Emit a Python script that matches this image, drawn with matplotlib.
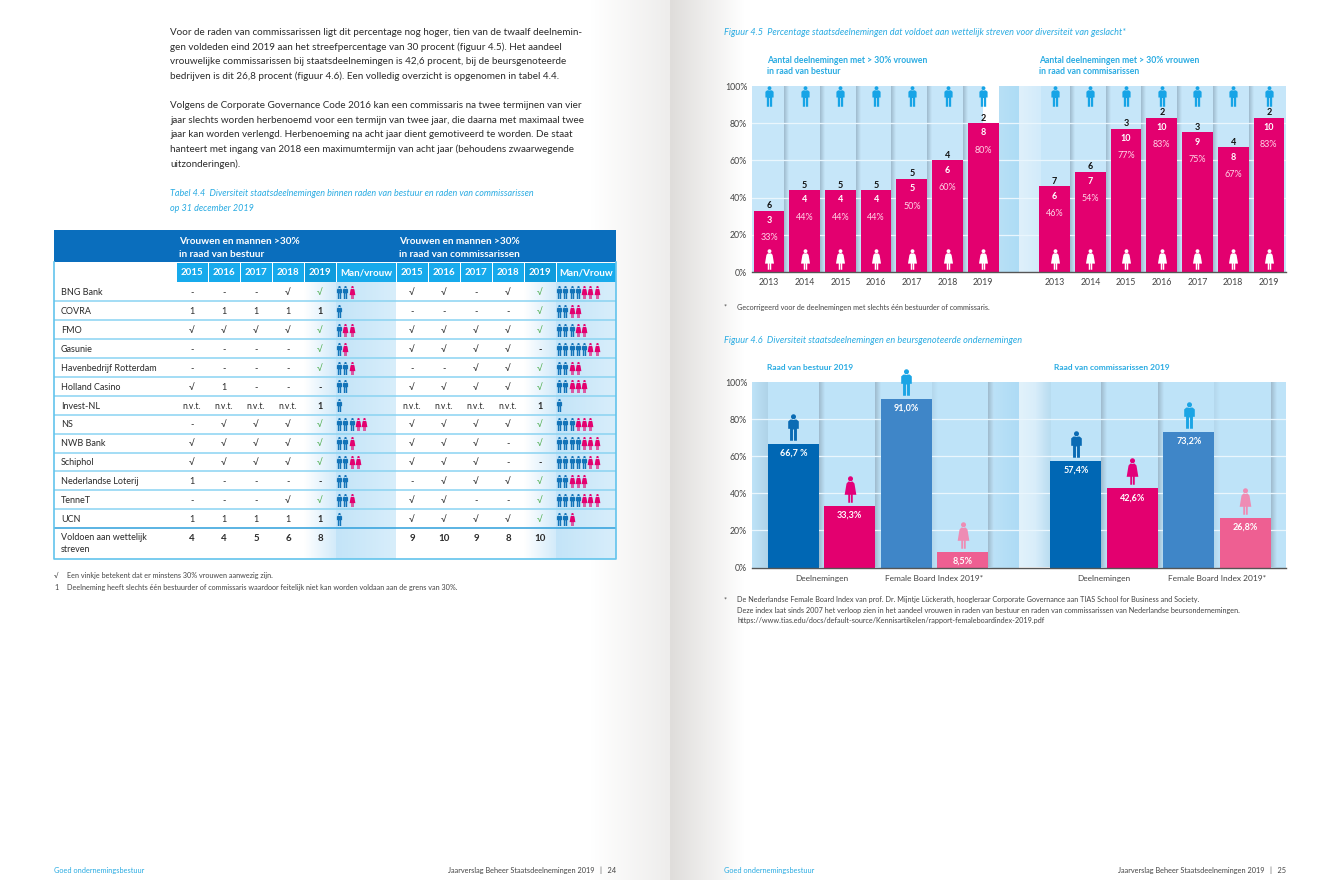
import numpy as np
import matplotlib
matplotlib.use("Agg")
import matplotlib.pyplot as plt
from matplotlib.path import Path
from matplotlib.colors import LinearSegmentedColormap as LSC
from matplotlib.patches import Rectangle

W, H = 1340, 880
FONT = ['Lato', 'DejaVu Sans']
plt.rcParams['font.family'] = FONT

# ---------- data ----------
YEARS_45 = ['2013', '2014', '2015', '2016', '2017', '2018', '2019']
BESTUUR_PCT = [33, 44, 44, 44, 50, 60, 80]
BESTUUR_V = [3, 4, 4, 4, 5, 6, 8]
BESTUUR_M = [6, 5, 5, 5, 5, 4, 2]
RVC_PCT = [46, 54, 77, 83, 75, 67, 83]
RVC_V = [6, 7, 10, 10, 9, 8, 10]
RVC_M = [7, 6, 3, 2, 3, 4, 2]

F46_GROUPS = ['Deelnemingen', 'Female Board Index 2019*']
F46_BESTUUR = [66.7, 33.3, 91.0, 8.5]
F46_RVC = [57.4, 42.6, 73.2, 26.8]
F46_BESTUUR_LBL = ['66,7 %', '33,3%', '91,0%', '8,5%']
F46_RVC_LBL = ['57,4%', '42,6%', '73,2%', '26,8%']

COMPANIES = ['BNG Bank', 'COVRA', 'FMO', 'Gasunie', 'Havenbedrijf Rotterdam', 'Holland Casino',
             'Invest-NL', 'NS', 'NWB Bank', 'Schiphol', 'Nederlandse Loterij', 'TenneT', 'UCN']
TABLE_YEARS = ['2015', '2016', '2017', '2018', '2019']
C, D, N = '√', '-', 'n.v.t.'
RVB = [[D, D, D, C, C], ['1', '1', '1', '1', '1'], [C, C, C, C, C], [D, D, D, D, C], [D, D, D, D, C],
       [C, '1', D, D, D], [N, N, N, N, '1'], [D, C, C, C, C], [C, C, C, C, C], [C, C, C, C, C],
       ['1', D, D, D, D], [D, D, D, C, C], ['1', '1', '1', '1', '1']]
RVC = [[C, C, D, C, C], [D, D, D, D, C], [C, C, C, C, C], [C, C, C, C, D], [D, D, C, C, C],
       [C, C, C, C, C], [N, N, N, N, '1'], [C, C, C, C, C], [C, C, C, D, C], [C, C, C, D, D],
       [D, C, C, C, C], [C, C, D, D, C], [C, C, C, C, C]]
RVB_MEN = [2, 1, 1, 1, 2, 2, 1, 3, 2, 2, 2, 2, 1]
RVB_WOMEN = [1, 0, 2, 1, 1, 0, 0, 2, 1, 2, 0, 1, 0]
RVC_MEN = [4, 2, 3, 5, 2, 2, 1, 3, 4, 5, 2, 4, 2]
RVC_WOMEN = [3, 2, 2, 2, 2, 3, 0, 3, 3, 2, 3, 3, 1]
TOTAL_RVB = ['4', '4', '5', '6', '8']
TOTAL_RVC = ['9', '10', '9', '8', '10']

BODY1 = ['Voor de raden van commissarissen ligt dit percentage nog hoger, tien van de twaalf deelnemin-',
         'gen voldeden eind 2019 aan het streefpercentage van 30 procent (figuur 4.5). Het aandeel',
         'vrouwelijke commissarissen bij staatsdeelnemingen is 42,6 procent, bij de beursgenoteerde',
         'bedrijven is dit 26,8 procent (figuur 4.6). Een volledig overzicht is opgenomen in tabel 4.4.']
BODY2 = ['Volgens de Corporate Governance Code 2016 kan een commissaris na twee termijnen van vier',
         'jaar slechts worden herbenoemd voor een termijn van twee jaar, die daarna met maximaal twee',
         'jaar kan worden verlengd. Herbenoeming na acht jaar dient gemotiveerd te worden. De staat',
         'hanteert met ingang van 2018 een maximumtermijn van acht jaar (behoudens zwaarwegende',
         'uitzonderingen).']

# ---------- colours ----------
CYAN = '#29ABE2'
TXT = '#2b2b2b'
GREY = '#444444'
MAG = '#E3006F'
HEAD = '#0A6EBD'
SUB = '#17AAEC'
SUB19 = '#0E9BDC'
BLUE_M = '#1273B8'

# ---------- icons ----------
def person(body):
    t = np.linspace(0, 2 * np.pi, 25)
    head = np.column_stack([0.19 * np.cos(t), 0.81 + 0.19 * np.sin(t)])
    return Path.make_compound_path(Path(head, closed=True), Path(np.array(body + [body[0]]), closed=True))

MAN = person([(-.24, .6), (.24, .6), (.4, .46), (.4, -.1), (.26, -.1), (.26, -1),
              (.04, -1), (.04, -.15), (-.04, -.15), (-.04, -1), (-.26, -1), (-.26, -.1),
              (-.4, -.1), (-.4, .46)])
WOMAN = person([(-.16, .6), (.16, .6), (.3, .45), (.44, -.4), (.17, -.4),
                (.17, -1), (.03, -1), (.03, -.4), (-.03, -.4), (-.03, -1), (-.17, -1), (-.17, -.4),
                (-.44, -.4), (-.3, .45)])

def icon(ax, x, y, path, color, px, z=6):
    ax.plot([x], [y], marker=path, ms=px * 0.72, mfc=color, mec='none', ls='none', zorder=z, clip_on=False)

def grad(ax, x0, x1, y0, y1, c0, c1, z=1):
    cm = LSC.from_list('g', [c0, c1])
    ax.imshow(np.linspace(0, 1, 64)[None, :], extent=(x0, x1, y0, y1), cmap=cm, aspect='auto', zorder=z,
              interpolation='bilinear')

# ---------- page ----------
fig = plt.figure(figsize=(W / 100, H / 100), dpi=100, facecolor='white')
pg = fig.add_axes([0, 0, 1, 1], zorder=0)
pg.axis('off')
grad(pg, 590, 670, H, 0, '#ffffff', '#eeedec', 0)
grad(pg, 670, 745, H, 0, '#dfdddb', '#ffffff', 0)
pg.set_xlim(0, W)
pg.set_ylim(H, 0)

def T(x, y, s, size=7.1, color=TXT, ha='left', weight='normal', style='normal', a=pg, z=10):
    a.text(x, y + 0.7, s, fontsize=size, color=color, ha=ha, va='center', fontweight=weight, fontstyle=style, zorder=z)

for i, s in enumerate(BODY1):
    T(170, 31.5 + i * 14.6, s)
for i, s in enumerate(BODY2):
    T(170, 105 + i * 14.6, s)
T(170, 193, 'Tabel 4.4  Diversiteit staatsdeelnemingen binnen raden van bestuur en raden van commissarissen',
  size=6.5, color=CYAN, style='italic')
T(170, 208, 'op 31 december 2019', size=6.5, color=CYAN, style='italic')

# ---------- table ----------
TL, TR = 54, 616
HT, HB, SB = 230, 262.5, 282.5
ROW = 18.9
TB = SB + ROW * 13 + 0.5
END = 559
X1 = [176, 208, 240, 272, 304, 336, 396]
X2 = [396, 428, 460, 492, 524, 556, 616]

pg.add_patch(Rectangle((TL, HT), TR - TL, HB - HT, fc=HEAD, ec='none', zorder=2))
T(179, 240.5, 'Vrouwen en mannen >30%', size=7.2, color='white', weight='bold')
T(179, 254, 'in raad van bestuur', size=7.2, color='white', weight='bold')
T(399, 240.5, 'Vrouwen en mannen >30%', size=7.2, color='white', weight='bold')
T(399, 254, 'in raad van commissarissen', size=7.2, color='white', weight='bold')

for xs, lab in ((X1, 'Man/vrouw'), (X2, 'Man/Vrouw')):
    for k, y in enumerate(TABLE_YEARS + [lab]):
        c = SUB19 if k == 4 else SUB
        pg.add_patch(Rectangle((xs[k] + .5, HB + .8), xs[k + 1] - xs[k] - 1, SB - HB - .8, fc=c, ec='none', zorder=2))
        T((xs[k] + xs[k + 1]) / 2, (HB + SB) / 2 - .5, y, size=7, color='white', weight='bold', ha='center')
    grad(pg, xs[4], xs[5], END, SB, '#ffffff', '#d3ebfa', 1)
    grad(pg, xs[5], xs[6], END, SB, '#c3e4f8', '#d8eefb', 1)

def rule(y, c, lw):
    pg.plot([TL, TR], [y, y], color=c, lw=lw, zorder=3, solid_capstyle='butt')

for i in range(1, 14):
    rule(SB + i * ROW, '#8AD3F2' if i < 13 else '#2E9FDB', 1.1)
pg.plot([TL, TL, TR, TR], [HB, END, END, HB], color='#62C4EC', lw=1.2, zorder=3)

def cell(x, y, s, bold=False, green=False, size=6.6):
    if s == N:
        size = 6.2
    color = '#4FAE4F' if green else TXT
    T(x, y, s, size=size, color=color, ha='center', weight='bold' if bold else 'normal')

for i, name in enumerate(COMPANIES):
    y = SB + (i + .5) * ROW
    T(61, y, name, size=6.5)
    for xs, vals, men, women in ((X1, RVB[i], RVB_MEN[i], RVB_WOMEN[i]), (X2, RVC[i], RVC_MEN[i], RVC_WOMEN[i])):
        for k, v in enumerate(vals):
            cx = (xs[k] + xs[k + 1]) / 2
            if k == 4:
                cell(cx, y, v, bold=v != C, green=v == C)
            else:
                cell(cx, y, v)
        for j in range(men + women):
            icon(pg, xs[5] + 3.2 + j * 6.25, y, MAN if j < men else WOMAN, BLUE_M if j < men else MAG, 13)

yt = TB + 9
T(61, TB + 8.5, 'Voldoen aan wettelijk', size=6.5)
T(61, TB + 20, 'streven', size=6.5)
for xs, vals in ((X1, TOTAL_RVB), (X2, TOTAL_RVC)):
    for k, v in enumerate(vals):
        cell((xs[k] + xs[k + 1]) / 2, yt, v, bold=True, size=7)

FN = 5.25
T(54, 575, '√', size=FN, color=GREY)
T(67, 575, 'Een vinkje betekent dat er minstens 30% vrouwen aanwezig zijn.', size=FN, color=GREY)
T(54, 586.5, '1', size=FN, color=GREY)
T(67, 586.5, 'Deelneming heeft slechts één bestuurder of commissaris waardoor feitelijk niet kan worden voldaan aan de grens van 30%.', size=FN, color=GREY)

FT = 5.3
T(54, 870, 'Goed ondernemingsbestuur', size=FT, color=CYAN)
T(616, 870, 'Jaarverslag Beheer Staatsdeelnemingen 2019   |   24', size=FT, color=GREY, ha='right')
T(724, 870, 'Goed ondernemingsbestuur', size=FT, color=CYAN)
T(1286, 870, 'Jaarverslag Beheer Staatsdeelnemingen 2019   |   25', size=FT, color=GREY, ha='right')

# ---------- captions on the right page ----------
T(724, 32, 'Figuur 4.5  Percentage staatsdeelnemingen dat voldoet aan wettelijk streven voor diversiteit van geslacht*',
  size=6.55, color=CYAN, style='italic')
T(767, 59.5, 'Aantal deelnemingen met > 30% vrouwen', size=6.2, color=CYAN, weight='bold')
T(767, 70.5, 'in raad van bestuur', size=6.2, color=CYAN, weight='bold')
T(1039, 59.5, 'Aantal deelnemingen met > 30% vrouwen', size=6.2, color=CYAN, weight='bold')
T(1039, 70.5, 'in raad van commisarissen', size=6.2, color=CYAN, weight='bold')
T(724, 306.5, '*', size=FN, color=GREY)
T(737, 306.5, 'Gecorrigeerd voor de deelnemingen met slechts één bestuurder of commissaris.', size=FN, color=GREY)
T(724, 340, 'Figuur 4.6  Diversiteit staatsdeelnemingen en beursgenoteerde ondernemingen', size=6.55, color=CYAN, style='italic')
T(767, 366.5, 'Raad van bestuur 2019', size=6.0, color=CYAN, weight='bold')
T(1054, 366.5, 'Raad van commissarissen 2019', size=6.0, color=CYAN, weight='bold')
T(724, 599, '*', size=FN, color=GREY)
T(737, 599, 'De Nederlandse Female Board Index van prof. Dr. Mijntje Lückerath, hoogleraar Corporate Governance aan TIAS School for Business and Society.', size=FN, color=GREY)
T(737, 609.5, 'Deze index laat sinds 2007 het verloop zien in het aandeel vrouwen in raden van bestuur en raden van commissarissen van Nederlandse beursondernemingen.', size=FN, color=GREY)
T(737, 620, 'https://www.tias.edu/docs/default-source/Kennisartikelen/rapport-femaleboardindex-2019.pdf', size=FN, color=GREY)

# ---------- chart helpers ----------
def chart_axes(x0, x1, y0, y1):
    a = fig.add_axes([x0 / W, 1 - y1 / H, (x1 - x0) / W, (y1 - y0) / H], zorder=2)
    a.patch.set_alpha(0)
    for s in ('top', 'left', 'right'):
        a.spines[s].set_visible(False)
    a.spines['bottom'].set_color('#555555')
    a.spines['bottom'].set_linewidth(1)
    a.set_yticks(range(0, 101, 20))
    a.set_yticklabels([f'{v}%' for v in range(0, 101, 20)], fontsize=6.3, color=GREY)
    a.tick_params(axis='both', length=0, pad=3.5)
    return a

SHADOW = '#9FBACD'

# ---------- Figure 4.5 ----------
ax = chart_axes(752, 1286, 86, 272)
xl = (-0.476, 14.48)
POS1 = list(range(7))
POS2 = list(range(8, 15))
BW = 0.86
BG = '#C6E6F9'
ax.add_patch(Rectangle((xl[0], 0), 6.476, 100, fc=BG, ec='none', zorder=0.5))
ax.add_patch(Rectangle((7.5, 0), xl[1] - 7.5, 100, fc=BG, ec='none', zorder=0.5))
grad(ax, 6.43, 7.0, 0, 100, '#B8E0F6', '#ADDCF5', 0.6)
grad(ax, 7.0, 7.6, 0, 100, '#DFF0FB', '#D2EBFA', 0.6)
for p in POS1[:-1] + POS2[:-1]:
    grad(ax, p + BW / 2, p + 1 - BW / 2, 0, 100, SHADOW, BG, 0.7)
for v in range(20, 100, 20):
    ax.plot(xl, [v, v], color='#EAF6FD', lw=0.9, zorder=0.9)

for pos, pct, w, m in ((POS1, BESTUUR_PCT, BESTUUR_V, BESTUUR_M), (POS2, RVC_PCT, RVC_V, RVC_M)):
    ax.bar(pos, pct, width=BW, color=MAG, zorder=2)
    for p, v, a_, b_ in zip(pos, pct, w, m):
        ax.annotate(str(b_), (p, v), xytext=(0, 3.6), textcoords='offset points', ha='center', va='center',
                    fontsize=6.5, fontweight='bold', color='#111111', zorder=5)
        ax.annotate(str(a_), (p, v), xytext=(0, -7), textcoords='offset points', ha='center', va='center',
                    fontsize=6.5, fontweight='bold', color='white', zorder=5)
        ax.annotate(f'{v}%', (p, v), xytext=(0, -19.5), textcoords='offset points', ha='center', va='center',
                    fontsize=6.5, color='#FFD3E6', zorder=5)
        icon(ax, p, 94.5, MAN, '#17A4E6', 20.5)
        icon(ax, p, 7, WOMAN, 'white', 20.5)
ax.set_xticks(POS1 + POS2)
ax.set_xticklabels(YEARS_45 * 2, fontsize=6.3, color=GREY)
ax.tick_params(axis='x', pad=4.5)
ax.set_xlim(*xl)
ax.set_ylim(0, 100)

# ---------- Figure 4.6 ----------
bx = chart_axes(752, 1286, 382, 567.5)
xl2 = (-0.73, 8.72)
P1 = [0, 1, 2, 3]
P2 = [5, 6, 7, 8]
BW2 = 0.9
BG2 = '#BEE3F8'
COLS = ['#0067B4', '#E3006F', '#3F86C8', '#EE5F92']
ICOLS = ['#0A6BB4', '#E3007A', '#1BA5E5', '#EE8CB4']
ICONS = [MAN, WOMAN, MAN, WOMAN]
bx.add_patch(Rectangle((xl2[0], 0), 3.99 - xl2[0], 100, fc=BG2, ec='none', zorder=0.5))
bx.add_patch(Rectangle((4.55, 0), xl2[1] - 4.55, 100, fc=BG2, ec='none', zorder=0.5))
grad(bx, 3.45, 3.99, 0, 100, BG2, '#AEDBF5', 0.6)
grad(bx, 3.99, 4.55, 0, 100, '#E2F2FB', '#CFE9F9', 0.6)
grad(bx, xl2[0], -BW2 / 2, 0, 100, BG2, '#AFD3E8', 0.6)
grad(bx, 4.3, 4.55, 0, 100, '#D6ECFA', '#B8DCF0', 0.65)
for p, c0 in ((0, SHADOW), (1, SHADOW), (2, '#B4D7EC'), (3, SHADOW),
              (5, SHADOW), (6, SHADOW), (7, '#B4D7EC'), (8, SHADOW)):
    grad(bx, p + BW2 / 2, p + 1 - BW2 / 2, 0, 100, c0, BG2, 0.7)
for v in range(20, 100, 20):
    bx.plot(xl2, [v, v], color='#EAF6FD', lw=0.9, zorder=0.9)
for pos, vals, labs in ((P1, F46_BESTUUR, F46_BESTUUR_LBL), (P2, F46_RVC, F46_RVC_LBL)):
    bx.bar(pos, vals, width=BW2, color=COLS, zorder=2)
    for p, v, l, ic, ik in zip(pos, vals, labs, ICOLS, ICONS):
        bx.annotate(l, (p, v), xytext=(0, -6.8), textcoords='offset points', ha='center', va='center',
                    fontsize=6.5, fontweight='bold', color='white', zorder=5)
        icon(bx, p, v + 9.2, ik, ic, 26.5)
bx.set_xticks([0.5, 2.5, 5.5, 7.5])
bx.set_xticklabels(F46_GROUPS * 2, fontsize=6.0, color=GREY)
bx.tick_params(axis='x', pad=5.5)
bx.set_xlim(*xl2)
bx.set_ylim(0, 100)

pg.set_xlim(0, W)
pg.set_ylim(H, 0)
fig.savefig('out.png', dpi=100, facecolor='white')
